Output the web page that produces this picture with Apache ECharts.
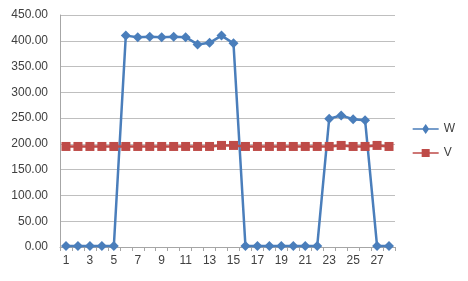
<!DOCTYPE html>
<html><head><meta charset="utf-8">
<script src="https://cdn.jsdelivr.net/npm/echarts@6/dist/echarts.min.js"></script>
<style>html,body{margin:0;padding:0;background:#fff}#c{width:468px;height:281px}</style>
</head><body><div id="c"></div>
<script>
var categories = [];
for (var i = 1; i <= 28; i++) categories.push(String(i));
var seriesW = [2,2,2,2,2,410,407,408,407,408,407,393,396,410,395,2,2,2,2,2,2,2,249,255,248,246,2,2];
var seriesV = [195,195,195,195,195,195,195,195,195,195,195,195,195,197,197,195,195,195,195,195,195,195,195,197,195,195,197,195];
var yTicks = {min: 0, max: 450, step: 50};

var chart = echarts.init(document.getElementById('c'));
chart.setOption({
  animation: false,
  grid: {left: 60, right: 73, top: 15, bottom: 34, containLabel: false},
  legend: {
    orient: 'vertical', right: 8, top: 118, itemGap: 12,
    itemWidth: 26, itemHeight: 10,
    textStyle: {fontFamily: 'Liberation Sans', fontSize: 12, color: '#404040'},
    data: [{name: 'W', icon: 'path://M0,4.2L10,4.2L13,0L16,4.2L26,4.2L26,5.8L16,5.8L13,10L10,5.8L0,5.8Z', itemStyle: {color: '#4a7ebb'}},
           {name: 'V', icon: 'path://M0,4.2L9,4.2L9,1L17,1L17,4.2L26,4.2L26,5.8L17,5.8L17,9L9,9L9,5.8L0,5.8Z', itemStyle: {color: '#be4b48'}}]
  },
  xAxis: {
    type: 'category', data: categories, boundaryGap: true,
    axisLine: {lineStyle: {color: '#a6a6a6', width: 1}},
    axisTick: {show: true, length: 4, interval: 0, lineStyle: {color: '#a6a6a6'}},
    axisLabel: {interval: 1, color: '#404040', fontFamily: 'Liberation Sans', fontSize: 12, margin: 8}
  },
  yAxis: {
    type: 'value', min: yTicks.min, max: yTicks.max, interval: yTicks.step,
    axisLine: {show: true, lineStyle: {color: '#a6a6a6'}},
    axisTick: {show: false},
    splitLine: {lineStyle: {color: '#bfbfbf', width: 1}},
    axisLabel: {color: '#404040', fontFamily: 'Liberation Sans', fontSize: 12, margin: 12,
      formatter: function (v) { return v.toFixed(2); }}
  },
  series: [
    {name: 'W', type: 'line', data: seriesW, symbol: 'diamond', symbolSize: 10, showAllSymbol: true,
     lineStyle: {color: '#4a7ebb', width: 2.5}, itemStyle: {color: '#4a7ebb'}},
    {name: 'V', type: 'line', data: seriesV, symbol: 'rect', symbolSize: 9, showAllSymbol: true,
     lineStyle: {color: '#be4b48', width: 2.5}, itemStyle: {color: '#be4b48'}}
  ]
});
</script></body></html>
